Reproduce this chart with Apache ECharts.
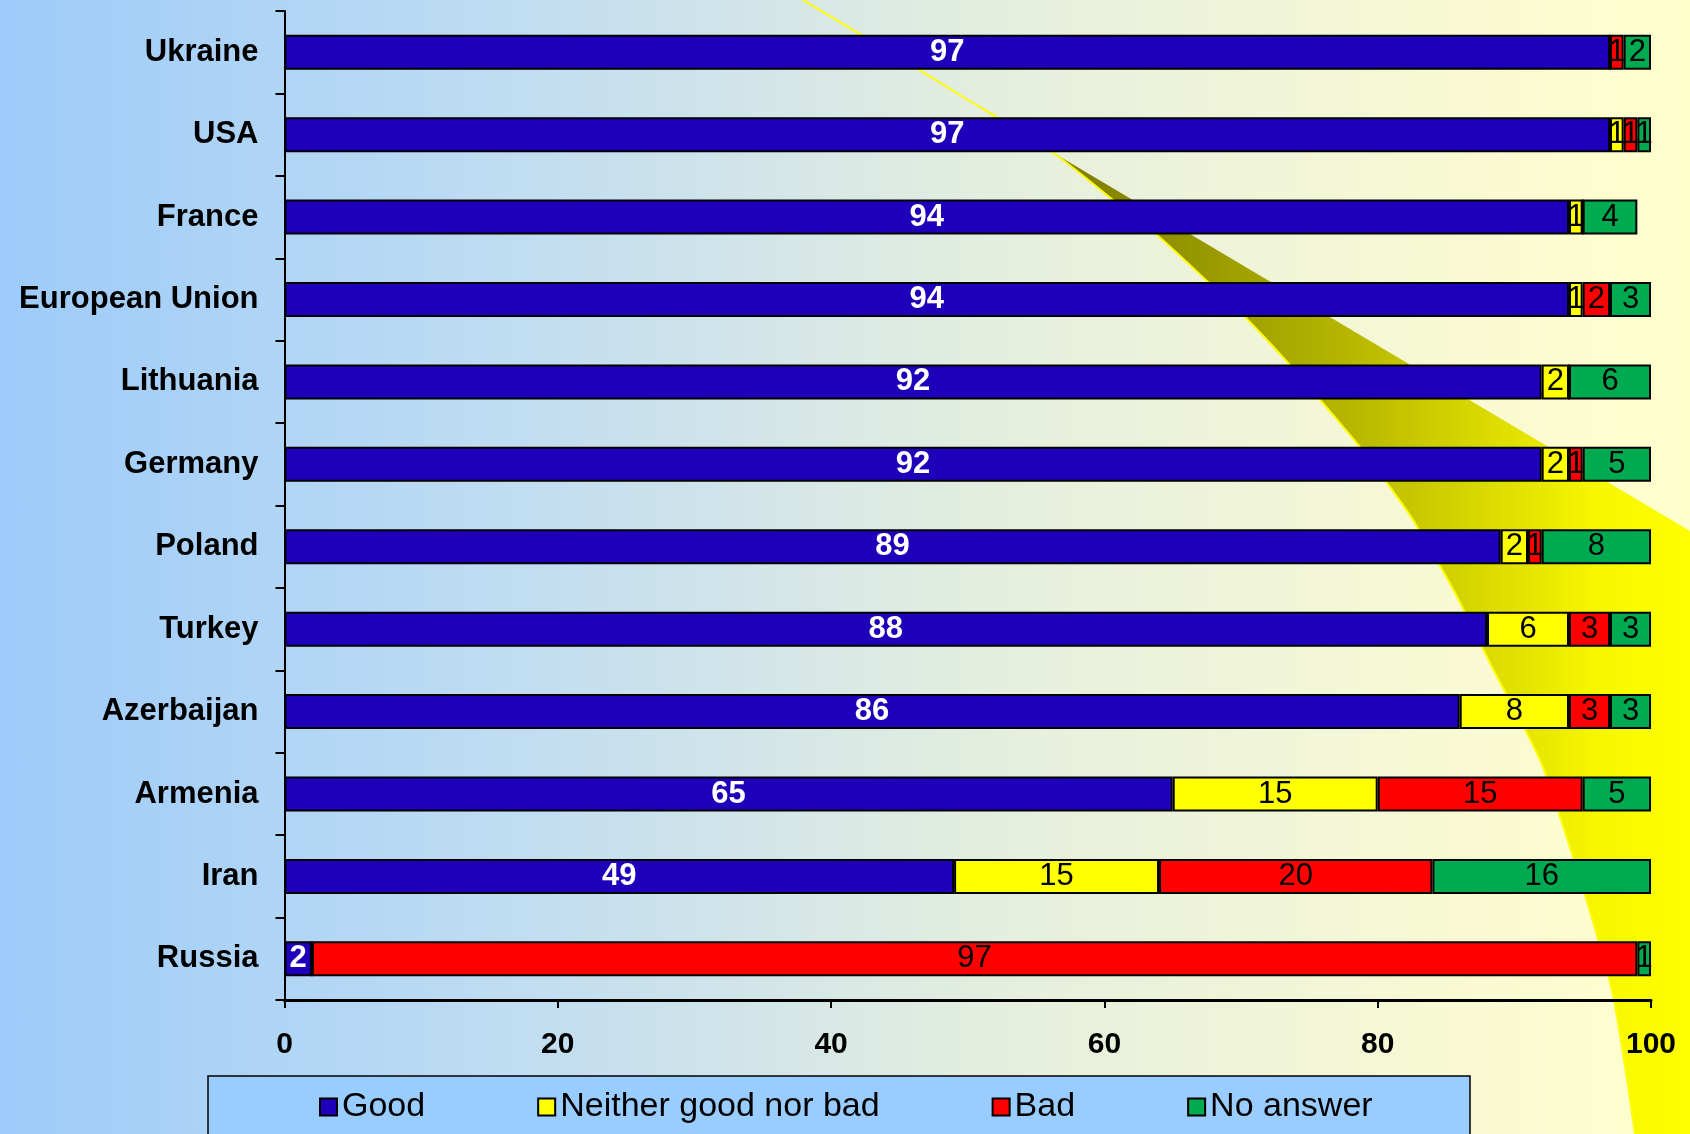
<!DOCTYPE html>
<html>
<head>
<meta charset="utf-8">
<script src="https://cdn.jsdelivr.net/npm/echarts@6/dist/echarts.min.js"></script>
<style>
  html, body { margin: 0; padding: 0; }
  #chart {
    width: 1690px;
    height: 1134px;
    background: linear-gradient(to right, #9dcbfa 0%, #c3def0 33%, #e6efde 60%, #fbfbd2 90%, #ffffcc 100%);
  }
</style>
</head>
<body>
<div id="chart"></div>
<script>
// 数据
const categories = ['Ukraine', 'USA', 'France', 'European Union', 'Lithuania', 'Germany',
  'Poland', 'Turkey', 'Azerbaijan', 'Armenia', 'Iran', 'Russia']
const good = [97, 97, 94, 94, 92, 92, 89, 88, 86, 65, 49, 2]
const neither = [0, 1, 1, 1, 2, 2, 2, 6, 8, 15, 15, 0]
const bad = [1, 1, 0, 2, 0, 1, 1, 3, 3, 15, 20, 97]
const noAnswer = [2, 1, 4, 3, 6, 5, 8, 3, 3, 5, 16, 1]
const xTicks = [0, 20, 40, 60, 80, 100]

const FONT = '"Liberation Sans", Arial, sans-serif'

// 右侧装饰性的黄色弧带（背景，不是数据）
const swooshEdge = [
  [803, 0], [880, 46], [960, 95], [1052, 152], [1113, 200], [1157, 235], [1208, 282],
  [1245, 317], [1290, 365], [1322, 402], [1360, 447], [1387, 483], [1413, 520],
  [1453, 589], [1492, 667], [1540, 760], [1565, 832], [1591, 915], [1613, 995], [1635, 1134]
]
const swooshFill = swooshEdge.slice(3).concat([[1690, 1134], [1690, 531]])

const chart = echarts.init(document.getElementById('chart'))

const makeSeries = (name, data, color, labelColor, bold) => ({
  name,
  type: 'bar',
  stack: 'total',
  data,
  barWidth: 35,
  itemStyle: {
    color,
    borderColor: '#000',
    borderWidth: 2
  },
  label: {
    show: true,
    position: 'inside',
    color: labelColor,
    fontFamily: FONT,
    fontSize: 31,
    fontWeight: bold ? 'bold' : 'normal',
    formatter: (p) => (p.value ? String(p.value) : '')
  },
  emphasis: { disabled: true }
})

const option = {
  animation: false,
  backgroundColor: 'transparent',
  textStyle: { fontFamily: FONT },
  graphic: [
    {
      type: 'polygon',
      z: -2,
      silent: true,
      shape: { points: swooshFill },
      style: {
        fill: new echarts.graphic.LinearGradient(0, 0, 1, 0, [
          { offset: 0, color: '#7a7a00' },
          { offset: 0.45, color: '#b4b400' },
          { offset: 0.85, color: '#f6f600' },
          { offset: 1, color: '#ffff00' }
        ], false)
      }
    },
    {
      type: 'polyline',
      z: -1,
      silent: true,
      shape: { points: swooshEdge, smooth: 0.3 },
      style: { stroke: '#ffff00', lineWidth: 2, fill: null }
    },
    {
      type: 'rect',
      z: -1,
      silent: true,
      shape: { x: 208, y: 1076, width: 1262, height: 80 },
      style: { fill: '#99ccff', stroke: '#000', lineWidth: 1.5 }
    }
  ],
  legend: {
    left: 319,
    top: 1090,
    padding: 0,
    itemGap: 112,
    itemWidth: 17,
    itemHeight: 17,
    icon: 'rect',
    selectedMode: false,
    textStyle: { fontFamily: FONT, fontSize: 34, color: '#000' },
    data: ['Good', 'Neither good nor bad', 'Bad', 'No answer']
  },
  grid: {
    left: 284.5,
    right: 39,
    top: 11,
    bottom: 134,
    containLabel: false
  },
  xAxis: {
    type: 'value',
    min: 0,
    max: 100,
    interval: 20,
    axisLine: { show: true, lineStyle: { color: '#000', width: 3 } },
    axisTick: { show: true, length: 8, lineStyle: { color: '#000', width: 2 } },
    splitLine: { show: false },
    axisLabel: {
      margin: 30,
      color: '#000',
      fontFamily: FONT,
      fontSize: 30,
      fontWeight: 'bold',
      formatter: (v) => (xTicks.includes(v) ? String(v) : '')
    }
  },
  yAxis: {
    type: 'category',
    inverse: true,
    data: categories,
    axisLine: { show: true, lineStyle: { color: '#000', width: 2 } },
    axisTick: { show: true, length: 9, lineStyle: { color: '#000', width: 2 } },
    axisLabel: {
      margin: 26,
      color: '#000',
      fontFamily: FONT,
      fontSize: 31,
      fontWeight: 'bold'
    }
  },
  series: [
    makeSeries('Good', good, '#1e00bb', '#fff', true),
    makeSeries('Neither good nor bad', neither, '#ffff00', '#000', false),
    makeSeries('Bad', bad, '#ff0000', '#000', false),
    makeSeries('No answer', noAnswer, '#00aa50', '#000', false)
  ]
}

chart.setOption(option)
</script>
</body>
</html>
